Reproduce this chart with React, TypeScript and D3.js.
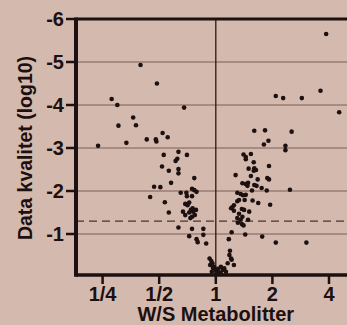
import React, { useRef, useEffect } from 'react';
import * as d3 from 'd3';

// log2 fold (W/S) and log10 quality
const downX = [-1.33, -1.04, -1.84, -1.74, -0.56, -1.46, -1.72, -1.41, -0.94, -0.85, -1.22, -1.06, -1.05, -2.08, -1.58,
  -0.92, -0.66, -0.51, -0.68, -0.71, -0.95, -0.83, -0.66, -0.66, -0.38, -0.79, -1.09, -0.98, -1.16, -0.62,
  -0.52, -0.51, -0.42, -0.38, -0.34, -0.42, -0.90, -0.54, -0.47, -0.50, -0.41, -0.35, -0.40, -0.44, -0.58,
  -0.54, -0.47, -0.83, -0.42, -0.37, -0.45, -0.66, -0.42, -0.22, -0.47, -0.22, -0.34, -0.32, -0.17];
const downY = [-4.93, -4.50, -4.14, -4.00, -3.94, -3.71, -3.52, -3.53, -3.35, -3.25, -3.20, -3.20, -3.15, -3.05, -3.12,
  -2.84, -2.91, -2.84, -2.75, -2.70, -2.57, -2.47, -2.51, -2.41, -2.30, -2.19, -2.10, -2.09, -1.86, -1.96,
  -1.96, -1.88, -2.05, -2.02, -1.98, -1.88, -1.74, -1.70, -1.73, -1.67, -1.60, -1.56, -1.52, -1.56, -1.52,
  -1.44, -1.50, -1.50, -1.40, -1.44, -1.37, -1.15, -1.12, -1.12, -0.95, -0.98, -0.88, -0.81, -0.78];

const nearX = [-0.11, -0.08, -0.06, -0.03, 0.0, 0.03, -0.05, 0.01, 0.07, 0.09, 0.12, 0.15, 0.18, 0.21, 0.04, 0.09, -0.07, -0.10];
const nearY = [-0.43, -0.37, -0.32, -0.24, -0.16, -0.12, -0.21, -0.09, -0.10, -0.24, -0.16, -0.20, -0.12, -0.32, -0.19, -0.07, -0.12, -0.28];

const upX = [1.95, 1.06, 1.19, 1.52, 1.85, 2.18, 0.68, 0.87, 1.34, 0.93, 0.85, 1.23, 1.23, 0.49, 0.53, 0.53, 0.62,
  0.67, 0.94, 0.58, 0.68, 0.71, 0.67, 0.35, 0.62, 0.74, 0.91, 0.94, 0.47, 0.53, 0.57, 0.56, 0.68, 0.72, 0.81,
  0.64, 0.90, 1.31, 0.38, 0.44, 0.48, 0.53, 0.41, 0.38, 0.51, 0.65, 0.75, 0.32, 0.29, 0.27, 0.46, 0.50, 0.59,
  0.96, 0.32, 0.41, 0.47, 0.38, 0.44, 0.57, 0.39, 0.49, 0.46, 0.28, 0.52, 0.23, 0.82, 1.06, 1.60, 0.25, 0.24,
  0.28, 0.32, 0.27];
const upY = [-5.65, -4.21, -4.16, -4.16, -4.33, -3.83, -3.40, -3.41, -3.38, -3.17, -3.08, -3.05, -2.95, -2.85, -2.79, -2.74, -2.86,
  -2.67, -2.58, -2.52, -2.53, -2.49, -2.47, -2.37, -2.35, -2.27, -2.30, -2.27, -2.18, -2.16, -2.19, -2.12, -2.14, -2.12, -2.07,
  -2.01, -2.01, -2.03, -1.96, -1.93, -1.90, -1.91, -1.79, -1.76, -1.79, -1.78, -1.72, -1.67, -1.62, -1.60, -1.58, -1.56, -1.52,
  -1.68, -1.54, -1.47, -1.40, -1.37, -1.33, -1.33, -1.26, -1.20, -1.23, -1.04, -0.99, -0.88, -0.94, -0.80, -0.80, -0.61, -0.51,
  -0.40, -0.28, -0.43];

const xTicks = [-2, -1, 0, 1, 2];
const xTickLabels = ['1/4', '1/2', '1', '2', '4'];
const yTicks = [-6, -5, -4, -3, -2, -1];
const cutoff = -1.3;

const App = () => {
  const svgRef = useRef(null);

  useEffect(() => {
    const svg = d3.select(svgRef.current);
    svg.selectAll('*').remove();

    const width = 347;
    const height = 325;
    const ink = '#1c1010';
    const font = 'Liberation Sans, Arial, sans-serif';

    const x = d3.scaleLinear().domain([-2.47, 2.47]).range([76, 355.6]);
    const y = d3.scaleLinear().domain([0, -6]).range([277, 19]);

    svg.append('rect').attr('width', width).attr('height', height).style('fill', '#d3b9ae');

    // grid
    svg.append('g').selectAll('line')
      .data(yTicks.filter((d) => d !== -6))
      .enter().append('line')
      .attr('x1', x(-2.47)).attr('x2', width)
      .attr('y1', (d) => y(d)).attr('y2', (d) => y(d))
      .style('stroke', '#7d5f56').style('stroke-width', 1);

    svg.append('line')
      .attr('x1', x(0)).attr('x2', x(0)).attr('y1', y(-6)).attr('y2', y(0))
      .style('stroke', '#2a1a16').style('stroke-width', 1.3);

    svg.append('line')
      .attr('x1', x(-2.47)).attr('x2', width)
      .attr('y1', y(cutoff)).attr('y2', y(cutoff))
      .style('stroke', '#4a3530').style('stroke-width', 1.4).style('stroke-dasharray', '8,5');

    // points
    const pts = [
      ...downX.map((d, i) => [d, downY[i]]),
      ...nearX.map((d, i) => [d, nearY[i]]),
      ...upX.map((d, i) => [d, upY[i]]),
    ];
    svg.append('g').selectAll('circle')
      .data(pts)
      .enter().append('circle')
      .attr('cx', (d) => x(d[0]))
      .attr('cy', (d) => y(d[1]))
      .attr('r', 2.3)
      .style('fill', ink);

    // frame
    const left = x(-2.47);
    const bottom = y(0) - 2;
    svg.append('line').attr('x1', left).attr('x2', width).attr('y1', y(-6)).attr('y2', y(-6))
      .style('stroke', ink).style('stroke-width', 3);
    svg.append('line').attr('x1', left).attr('x2', width).attr('y1', bottom).attr('y2', bottom)
      .style('stroke', ink).style('stroke-width', 3.5);
    svg.append('line').attr('x1', left).attr('x2', left).attr('y1', y(-6) - 1.5).attr('y2', bottom + 1.7)
      .style('stroke', ink).style('stroke-width', 4);

    // y ticks
    const yt = svg.append('g');
    yt.selectAll('line').data(yTicks).enter().append('line')
      .attr('x1', left - 10).attr('x2', left)
      .attr('y1', (d) => y(d)).attr('y2', (d) => y(d))
      .style('stroke', ink).style('stroke-width', 2.5);
    yt.selectAll('text').data(yTicks).enter().append('text')
      .attr('x', left - 12).attr('y', (d) => y(d))
      .attr('text-anchor', 'end').attr('dominant-baseline', 'central')
      .style('font-family', font).style('font-weight', 'bold').style('font-size', '20px')
      .style('fill', ink)
      .text((d) => String(d));

    // x ticks
    const xt = svg.append('g');
    xt.selectAll('line').data(xTicks).enter().append('line')
      .attr('x1', (d) => x(d)).attr('x2', (d) => x(d))
      .attr('y1', bottom).attr('y2', bottom + 9)
      .style('stroke', ink).style('stroke-width', 2.5);
    xt.selectAll('text').data(xTicks).enter().append('text')
      .attr('x', (d) => x(d)).attr('y', 301)
      .attr('text-anchor', 'middle')
      .style('font-family', font).style('font-weight', 'bold').style('font-size', '20px')
      .style('fill', ink)
      .text((d, i) => xTickLabels[i]);

    // titles
    svg.append('text')
      .attr('x', x(0)).attr('y', 321)
      .attr('text-anchor', 'middle')
      .style('font-family', font).style('font-weight', 'bold').style('font-size', '20px')
      .style('fill', ink)
      .text('W/S Metabolitter');

    svg.append('text')
      .attr('transform', `translate(32, ${(y(-6) + y(0)) / 2}) rotate(-90)`)
      .attr('text-anchor', 'middle')
      .style('font-family', font).style('font-weight', 'bold').style('font-size', '19.5px')
      .style('fill', ink)
      .text('Data kvalitet (log10)');
  }, []);

  return (
    <svg ref={svgRef} width={347} height={325}
      style={{ position: 'absolute', left: 0, top: 0, display: 'block' }} />
  );
};

export default App;
